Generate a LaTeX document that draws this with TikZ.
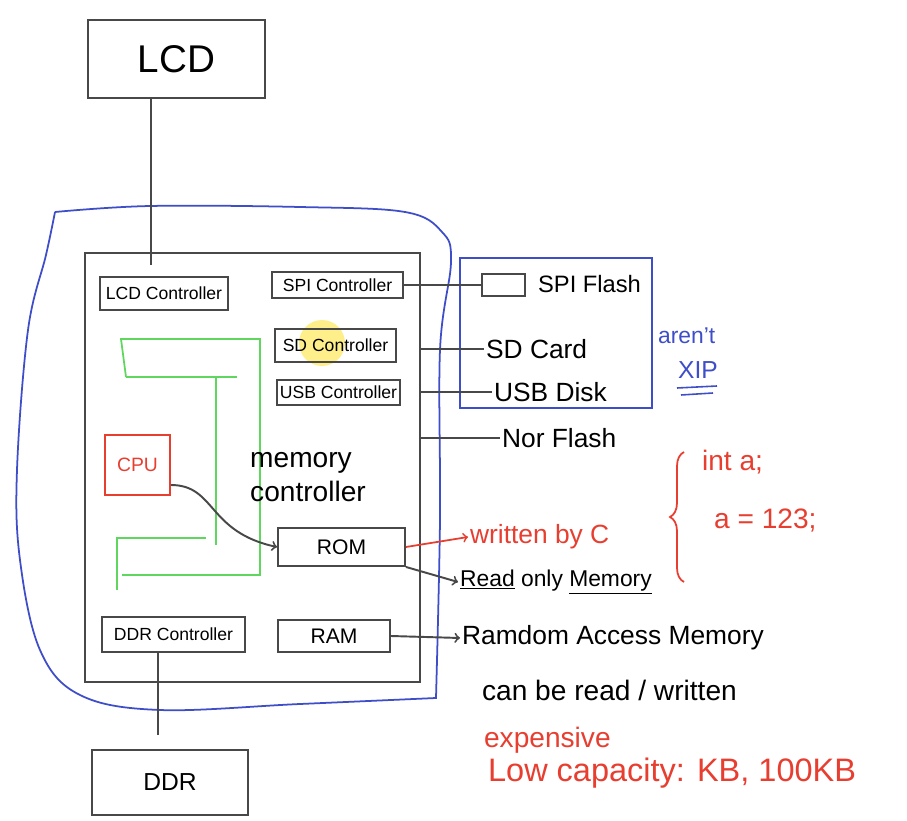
\documentclass[tikz,border=0pt]{standalone}
\usepackage{fontspec}
\setmainfont{Liberation Sans}
\usetikzlibrary{calc, decorations.pathreplacing}
\definecolor{penblue}{RGB}{62,78,200}
\definecolor{penred}{RGB}{232,62,48}
\definecolor{pengreen}{RGB}{95,215,95}
\definecolor{pengray}{RGB}{72,72,72}
\definecolor{marker}{RGB}{255,236,110}

\tikzset{
  blk/.style={draw=pengray, line width=1.1pt, inner sep=0pt},
  ctrl/.style={blk, font=\fontsize{10}{12}\selectfont},
  hw/.style={font=\fontsize{15}{18}\selectfont, inner sep=1pt, anchor=west},
  wire/.style={pengray, line width=1.1pt},
}

\begin{document}
\begin{tikzpicture}[x=0.02cm, y=-0.02cm]
  \useasboundingbox[fill=white] (0,0) rectangle (907,821);

  % cursor highlight
  \fill[marker, opacity=0.8] (322,343) circle (23);

  % boxes
  \node[blk, minimum width=3.54cm, minimum height=1.56cm, font=\fontsize{22}{26}\selectfont] (lcd) at (176.5,59) {LCD};
  \node[blk, minimum width=6.7cm, minimum height=8.58cm] (chip) at (252.5,467.5) {};
  \node[ctrl, minimum width=2.56cm, minimum height=0.66cm] (lcdc) at (164,293.5) {LCD Controller};
  \node[ctrl, minimum width=2.62cm, minimum height=0.52cm] (spic) at (337.5,285) {SPI Controller};
  \node[ctrl, minimum width=2.42cm, minimum height=0.66cm] (sdc) at (335.5,345.5) {SD Controller};
  \node[ctrl, minimum width=2.46cm, minimum height=0.5cm] (usbc) at (338.5,392.5) {USB Controller};
  \node[draw=penred, line width=1pt, text=penred, minimum width=1.3cm, minimum height=1.2cm, font=\fontsize{11}{13}\selectfont] (cpu) at (137.5,465) {CPU};
  \node[blk, minimum width=2.54cm, minimum height=0.76cm, font=\fontsize{12}{14}\selectfont] (rom) at (341.5,547) {ROM};
  \node[ctrl, minimum width=2.86cm, minimum height=0.7cm] (ddrc) at (173.5,634.5) {DDR Controller};
  \node[blk, minimum width=2.24cm, minimum height=0.64cm, font=\fontsize{12}{14}\selectfont] (ram) at (334,636) {RAM};
  \node[blk, minimum width=3.12cm, minimum height=1.3cm, font=\fontsize{14}{16}\selectfont] (ddr) at (170,782.5) {DDR};
  \node[blk, minimum width=0.86cm, minimum height=0.44cm] (spibox) at (503.5,285) {};

  % memory controller
  \draw[pengreen, line width=1pt] (126,377) -- (121,339) -- (260,339) -- (260,575) -- (122,575);
  \draw[pengreen, line width=1pt] (126,377) -- (237,377);
  \draw[pengreen, line width=1pt] (216,377) -- (216,545);
  \draw[pengreen, line width=1pt] (206,538) -- (117,538) -- (117,590);
  \node[font=\fontsize{16}{19}\selectfont, align=left, anchor=west] (memc) at (244,477) {memory\\controller};

  % outer outline
  \draw[penblue, line width=1pt]
    plot[smooth, tension=0.6] coordinates {(55,212) (150,206) (300,207) (405,212) (442,232) (451,262) (440,350) (440,520) (436,698)}
    -- plot[smooth, tension=0.6] coordinates {(436,698) (300,704) (160,710) (80,695) (40,650) (20,560) (17,470) (28,330) (46,255) (55,212)};

  % flash group
  \draw[penblue, line width=1pt] (460,258) rectangle (652,408);
  \node[hw, text=penblue, font=\fontsize{13}{15}\selectfont] (arent) at (656,336) {aren't};
  \node[hw, text=penblue, font=\fontsize{14}{16}\selectfont] (xip) at (676,370) {XIP};
  \draw[penblue, line width=0.9pt] (677,388) -- (717,386);
  \draw[penblue, line width=0.9pt] (681,395) -- (713,393);

  % labels on the right
  \node[hw, font=\fontsize{13.5}{16}\selectfont] (spiflash) at (536,284) {SPI Flash};
  \node[hw] (sdcard) at (484,349) {SD Card};
  \node[hw] (usbdisk) at (492,392) {USB Disk};
  \node[hw] (norflash) at (500,438) {Nor Flash};
  \node[hw, text=penred] (written) at (468,537) {written by C};
  \node[hw, font=\fontsize{13}{15}\selectfont] (readonly) at (458,582) {\underline{Read} only \underline{Memory}};
  \node[hw] (random) at (460,638) {Ramdom Access Memory};
  \node[hw, font=\fontsize{16}{19}\selectfont] (canbe) at (480,690) {can be read / written};
  \node[hw, text=penred, font=\fontsize{16}{19}\selectfont] (expensive) at (482,740) {expensive};
  \node[hw, text=penred, font=\fontsize{18.5}{22}\selectfont] (lowcap) at (486,773) {Low capacity: KB, 100KB};
  \node[hw, text=penred, font=\fontsize{16}{19}\selectfont] (inta) at (700,462) {int a;};
  \node[hw, text=penred, font=\fontsize{16}{19}\selectfont] (aeq) at (712,520) {a = 123;};
  \draw[penred, line width=1pt, decorate, decoration={brace, amplitude=0.28cm}] (684,582) -- (684,452);

  % connectors
  \coordinate (lcdtap) at (151,265);
  \draw[wire] (lcdtap |- lcd.south) -- (lcdtap);
  \coordinate (ddrtap) at (158,735);
  \draw[wire] (ddrtap |- ddrc.south) -- (ddrtap);
  \draw[wire] (spic.east) -- (spibox.west);
  \draw[wire] (sdcard.west -| chip.east) -- (sdcard.west);
  \draw[wire] (usbdisk.west -| chip.east) -- (usbdisk.west);
  \draw[wire] (norflash.west -| chip.east) -- (norflash.west);
  \draw[wire, ->] ($(cpu.east)+(0,20)$) .. controls +(45,0) and +(-70,-15) .. (rom.west);
  \draw[penred, line width=1pt, ->] (rom.east) -- (written.west);
  \draw[wire, ->] (rom.south east) -- (readonly.west);
  \draw[wire, ->] (ram.east) -- (random.west);
\end{tikzpicture}
\end{document}
